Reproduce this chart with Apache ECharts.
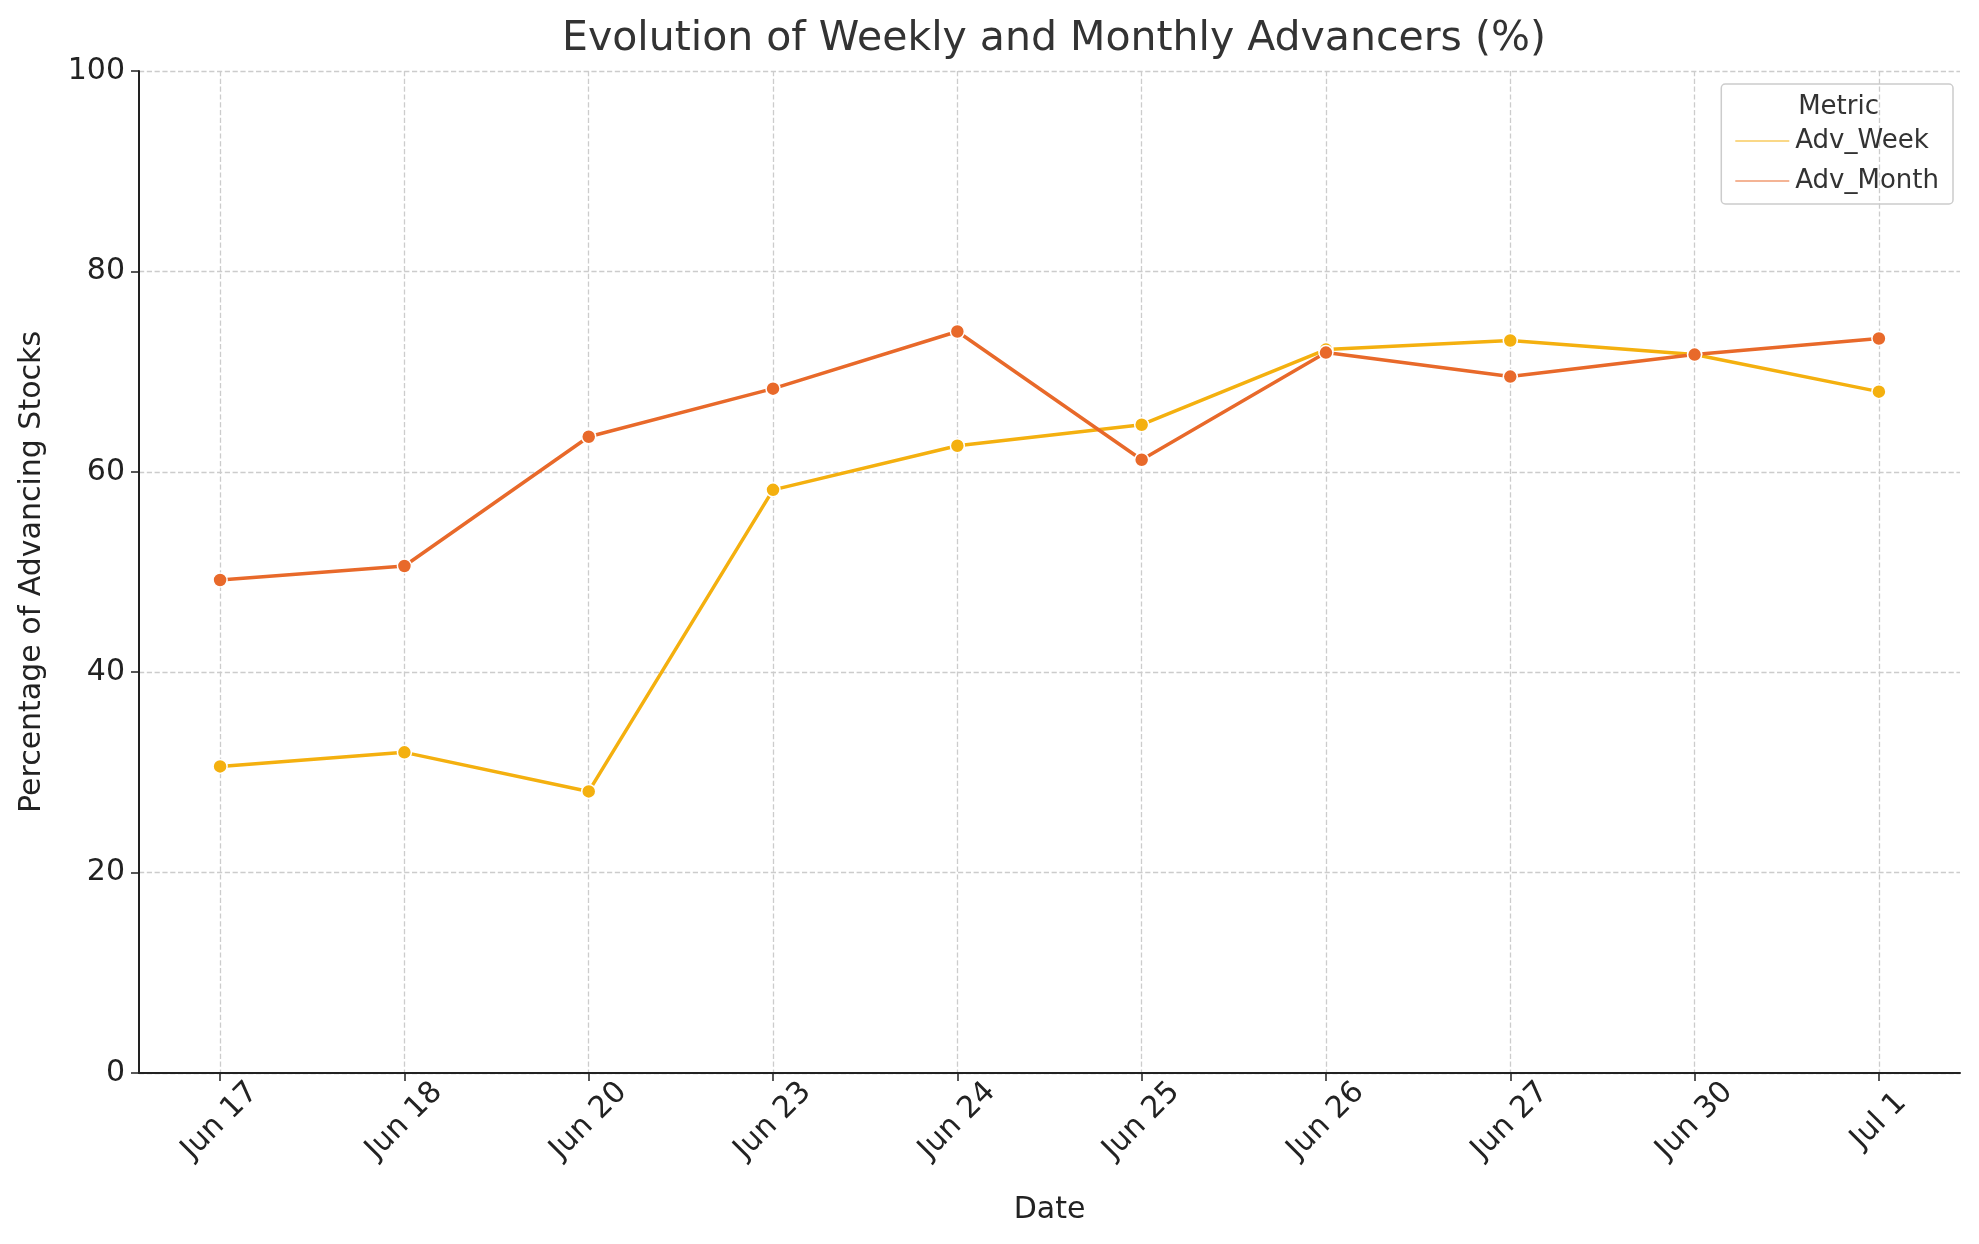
<!DOCTYPE html>
<html><head><meta charset="utf-8">
<script src="https://cdn.jsdelivr.net/npm/echarts@6/dist/echarts.min.js"></script>
<style>html,body{margin:0;padding:0;background:#fff}#c{width:1979px;height:1244px}</style>
</head><body><div id="c"></div>
<script>
const categories = ["Jun 17","Jun 18","Jun 20","Jun 23","Jun 24","Jun 25","Jun 26","Jun 27","Jun 30","Jul 1"];
const advWeek = [30.6, 32.0, 28.1, 58.2, 62.6, 64.7, 72.2, 73.1, 71.7, 68.0];
const advMonth = [49.2, 50.6, 63.5, 68.3, 74.0, 61.2, 71.9, 69.5, 71.7, 73.3];
const yTicks = [0,20,40,60,80,100];

const chart = echarts.init(document.getElementById('c'));
const font = 'DejaVu Sans';
const pts = a => a.map((v,i)=>[i,v]);
chart.setOption({
  animation:false,
  textStyle:{fontFamily:font},
  title:{text:'Evolution of Weekly and Monthly Advancers (%)',left:1049,top:14,textAlign:'center',
    textStyle:{fontFamily:font,fontSize:41,fontWeight:'normal',color:'#333'}},
  grid:{left:139,right:19,top:71,bottom:171},
  legend:{right:26,top:84,orient:'vertical',itemWidth:56,itemHeight:14,itemGap:14,
    borderColor:'#ccc',borderWidth:1.5,borderRadius:4,padding:[44,14,10,12],
    textStyle:{fontSize:26,color:'#333'},
    data:[{name:'Adv_Week',icon:'path://M0,6H56V9H0Z'},{name:'Adv_Month',icon:'path://M0,6H56V9H0Z'}]},
  graphic:[{type:'text',right:100,top:94,style:{text:'Metric',fontSize:26,fill:'#333',fontFamily:font}}],
  xAxis:{type:'value',min:-0.44,max:9.44,interval:1,
    name:'Date',nameLocation:'middle',nameGap:122,nameTextStyle:{fontSize:30,color:'#222'},
    axisLine:{onZero:false,lineStyle:{color:'#222',width:2}},
    axisTick:{show:true,length:8,lineStyle:{color:'#222',width:1.5},customValues:categories.map((c,i)=>i)},
    axisLabel:{rotate:45,fontSize:30,color:'#222',margin:48,align:'center',verticalAlign:'middle',
      customValues:categories.map((c,i)=>i),
      formatter:v=>categories[Math.round(v)]||''},
    splitLine:{show:true,lineStyle:{color:'#ccc',type:'dashed',width:1.3}}},
  yAxis:{type:'value',min:0,max:100,interval:20,
    name:'Percentage of Advancing Stocks',nameLocation:'middle',nameGap:92,nameTextStyle:{fontSize:30,color:'#222'},
    axisLine:{show:true,onZero:false,lineStyle:{color:'#222',width:2}},
    axisTick:{show:true,length:8,lineStyle:{color:'#222',width:1.5}},
    axisLabel:{fontSize:30,color:'#222',margin:14,formatter:v=>yTicks.includes(v)?String(v):''},
    splitLine:{show:true,lineStyle:{color:'#ccc',type:'dashed',width:1.3}}},
  series:[
    {name:'Adv_Week',type:'line',data:pts(advWeek),symbol:'circle',symbolSize:14,
      color:'#F4B00F',lineStyle:{width:3.5},itemStyle:{borderColor:'#fff',borderWidth:1.5}},
    {name:'Adv_Month',type:'line',data:pts(advMonth),symbol:'circle',symbolSize:14,
      color:'#E8692A',lineStyle:{width:3.5},itemStyle:{borderColor:'#fff',borderWidth:1.5}}
  ]
});
</script></body></html>
